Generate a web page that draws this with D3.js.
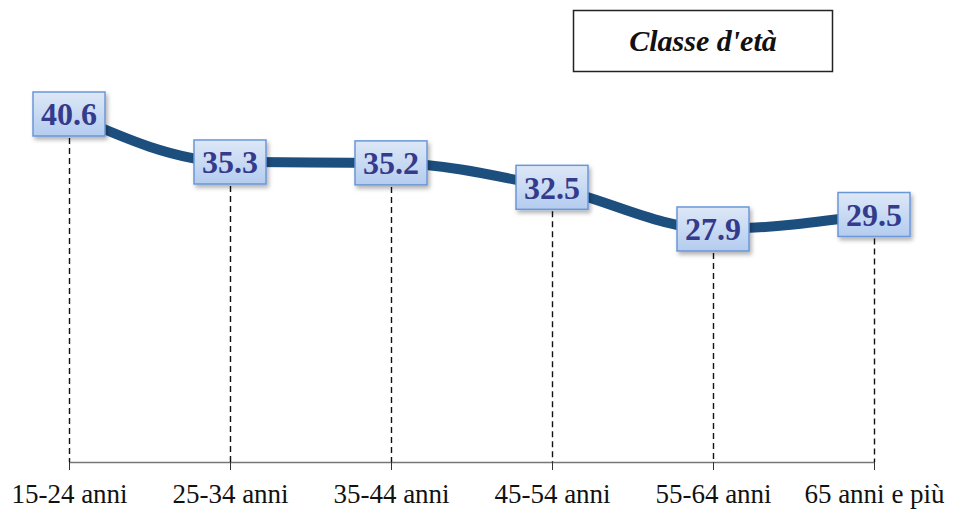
<!DOCTYPE html>
<html>
<head>
<meta charset="utf-8">
<script src="https://cdn.jsdelivr.net/npm/d3@7"></script>
<style>
  body { margin: 0; background: #fff; }
  svg { display: block; }
  text { font-family: 'Liberation Serif', 'Times New Roman', serif; }
</style>
</head>
<body>
<svg id="chart" width="956" height="512"></svg>
<script>
const categories = ["15-24 anni", "25-34 anni", "35-44 anni", "45-54 anni", "55-64 anni", "65 anni e più"];
const values = [40.6, 35.3, 35.2, 32.5, 27.9, 29.5];
const legendTitle = "Classe d'età";

const serif = "'Liberation Serif', 'Times New Roman', serif";
const svg = d3.select("#chart");

const x = d3.scalePoint()
  .domain(categories)
  .range([69, 874]);

const y = d3.scaleLinear()
  .domain([0, 40.6])
  .range([481.6, 114]);

const axisY = 462;

const defs = svg.append("defs");
const grad = defs.append("linearGradient")
  .attr("id", "boxFill")
  .attr("x1", 0).attr("y1", 0).attr("x2", 0).attr("y2", 1);
grad.append("stop").attr("offset", "0%").attr("stop-color", "#dde8f7");
grad.append("stop").attr("offset", "100%").attr("stop-color", "#b4ccef");

const shadow = defs.append("filter").attr("id", "shadow")
  .attr("x", "-20%").attr("y", "-20%").attr("width", "150%").attr("height", "160%");
shadow.append("feDropShadow")
  .attr("dx", 2).attr("dy", 3).attr("stdDeviation", 2)
  .attr("flood-color", "#000").attr("flood-opacity", 0.3);

// legend title box
svg.append("rect")
  .attr("x", 573.5).attr("y", 10.5)
  .attr("width", 259).attr("height", 61)
  .attr("fill", "#fff").attr("stroke", "#222").attr("stroke-width", 1.5);
svg.append("text")
  .attr("x", 703).attr("y", 51)
  .attr("text-anchor", "middle")
  .style("font-family", serif)
  .attr("font-style", "italic").attr("font-weight", "bold")
  .attr("font-size", 30)
  .attr("fill", "#111")
  .text(legendTitle);

// x axis
const xAxis = d3.axisBottom(x).tickSize(8).tickPadding(14);
const gx = svg.append("g")
  .attr("transform", `translate(0,${axisY})`)
  .call(xAxis);
gx.attr("font-family", null).attr("font-size", null);
gx.select(".domain")
  .attr("d", `M${x.range()[0]},0.5H${x.range()[1]}`)
  .attr("stroke", "#777").attr("stroke-width", 1.5);
gx.selectAll(".tick line").attr("stroke", "#333");
gx.selectAll(".tick text")
  .style("font-family", serif)
  .style("font-size", "27px")
  .attr("fill", "#111");

// dashed drop lines
svg.append("g").selectAll("line")
  .data(values)
  .join("line")
  .attr("x1", (d, i) => x(categories[i]) + 0.5)
  .attr("x2", (d, i) => x(categories[i]) + 0.5)
  .attr("y1", d => y(d) + 24)
  .attr("y2", axisY)
  .attr("stroke", "#111")
  .attr("stroke-width", 1.4)
  .attr("stroke-dasharray", "6,4");

// line
const line = d3.line()
  .x((d, i) => x(categories[i]))
  .y(d => y(d))
  .curve(d3.curveMonotoneX);

svg.append("path")
  .datum(values)
  .attr("d", line)
  .attr("fill", "none")
  .attr("stroke", "#1d4f7e")
  .attr("stroke-width", 10)
  .attr("stroke-linecap", "round");

// value boxes
const boxW = 72, boxH = 44;
const labels = svg.append("g").selectAll("g")
  .data(values)
  .join("g")
  .attr("transform", (d, i) => `translate(${x(categories[i])},${y(d)})`);

labels.append("rect")
  .attr("x", -boxW / 2).attr("y", -boxH / 2)
  .attr("width", boxW).attr("height", boxH)
  .attr("fill", "url(#boxFill)")
  .attr("stroke", "#6a97d8")
  .attr("stroke-width", 1.5)
  .attr("filter", "url(#shadow)");

labels.append("text")
  .attr("text-anchor", "middle")
  .attr("dy", "0.35em")
  .style("font-family", serif)
  .attr("font-weight", "bold")
  .attr("font-size", 32)
  .attr("fill", "#343a8c")
  .text(d => d.toFixed(1));
</script>
</body>
</html>
